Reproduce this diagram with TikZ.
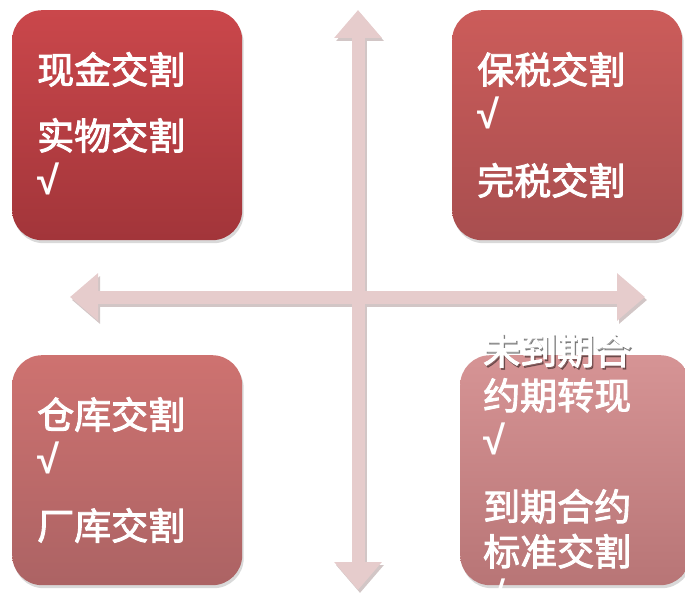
\documentclass[tikz,border=0pt]{standalone}
\usepackage{fontspec}
\newfontfamily\cjk{Noto Sans CJK SC}[FakeBold=2.5]
\newfontfamily\tickfont{Liberation Sans}
\usetikzlibrary{arrows.meta,shadows}

\definecolor{axispink}{HTML}{E6CCCC}
\definecolor{axisshade}{HTML}{D2C6C6}
\definecolor{cashtop}{HTML}{CA474B}
\definecolor{cashbot}{HTML}{A2353A}
\definecolor{bondtop}{HTML}{CC5C5A}
\definecolor{bondbot}{HTML}{A84E4F}
\definecolor{storetop}{HTML}{CE7270}
\definecolor{storebot}{HTML}{AC6364}
\definecolor{termtop}{HTML}{D69495}
\definecolor{termbot}{HTML}{B87576}

\newcommand{\tick}{{\tickfont\bfseries\fontsize{40bp}{45bp}\selectfont √}}

\begin{document}
\begin{tikzpicture}[x=1bp,y=-1bp,
    box/.style={rectangle, rounded corners=30bp, minimum width=230bp,
        minimum height=230bp, anchor=north west, inner sep=0pt,
        drop shadow={shadow xshift=1.5bp, shadow yshift=-3bp, opacity=0.3}},
    lbl/.style={anchor=north west, inner sep=0pt, align=left, text=white,
        font=\cjk\fontsize{37bp}{45bp}\selectfont},
    axis/.style={line width=13bp, draw=axispink,
        {Triangle[width=46bp,length=28bp]}-{Triangle[width=46bp,length=28bp]}}
]
    \useasboundingbox (0,0) rectangle (685,609);

    %axis cross
    \coordinate (vtop) at (358,10);
    \coordinate (vbot) at (358,590);
    \coordinate (hleft) at (70,297);
    \coordinate (hright) at (645,297);
    \draw[axis, draw=axisshade] ([shift={(2,3)}]vtop) -- ([shift={(2,3)}]vbot);
    \draw[axis, draw=axisshade] ([shift={(2,3)}]hleft) -- ([shift={(2,3)}]hright);
    \draw[axis] (vtop) -- (vbot);
    \draw[axis] (hleft) -- (hright);

    %four quadrants
    \node[box, top color=cashtop, bottom color=cashbot] (cash) at (12,10) {};
    \node[box, top color=bondtop, bottom color=bondbot] (bond) at (452,10) {};
    \node[box, top color=storetop, bottom color=storebot] (store) at (12,355) {};
    \node[box, top color=termtop, bottom color=termbot] (term) at (460,355) {};

    %labels
    \node[lbl] (cashtext) at (37,52) {现金交割\\[21bp]实物交割\\\tick};
    \node[lbl] (bondtext) at (477,52) {保税交割\\\tick\\[21bp]完税交割};
    \node[lbl] (storetext) at (37,397) {仓库交割\\\tick\\[21bp]厂库交割};
    % grey glow so the line above the box stays readable
    \begin{scope}[opacity=0.35]
        \node[lbl, text=black] (termglow) at (484.5,335) {未到期合};
    \end{scope}
    \node[lbl] (termtext) at (483,333) {未到期合\\约期转现\\\tick\\[21bp]到期合约\\标准交割\\\tick};
\end{tikzpicture}
\end{document}
